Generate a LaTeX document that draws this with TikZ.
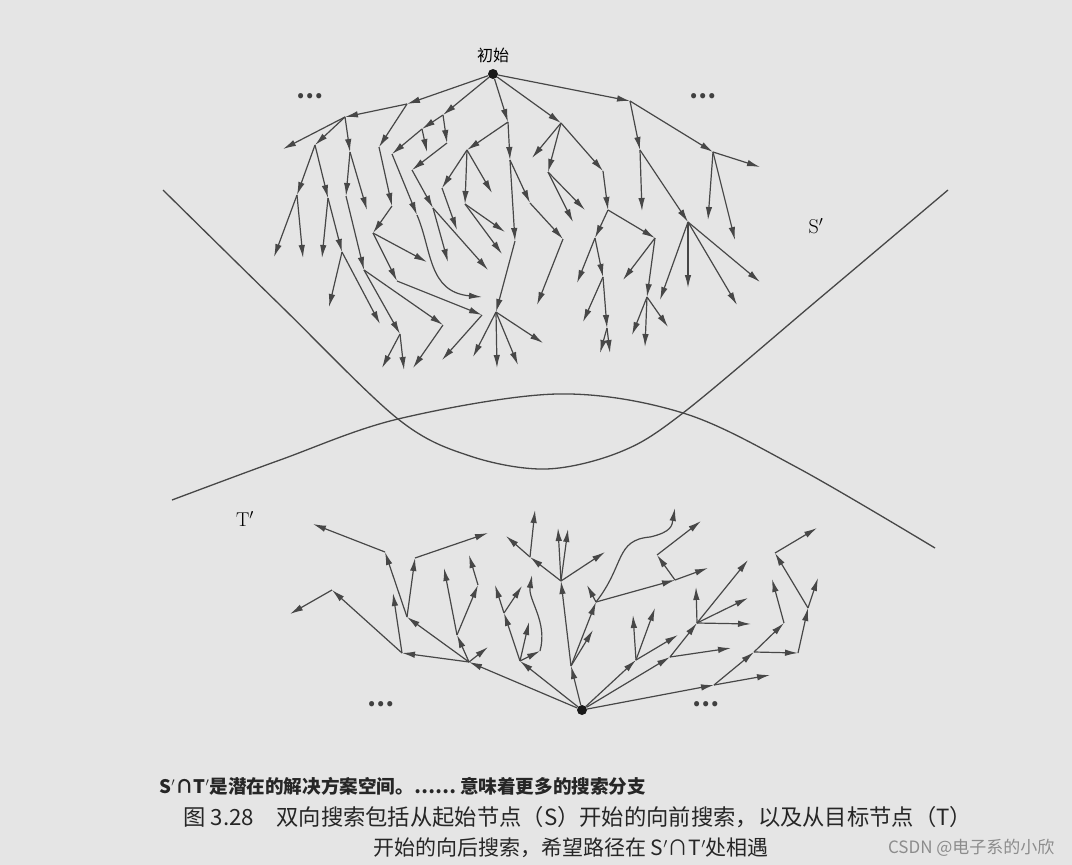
\documentclass[tikz,border=0pt]{standalone}
\usepackage{fontspec}
\newfontfamily\cjk{Noto Sans CJK SC}
\usetikzlibrary{arrows.meta}

\begin{document}
\begin{tikzpicture}[x=1pt, y=-1pt,
    edge/.style={draw=black!72, line width=1.2pt, -{Latex[length=13pt,width=6.5pt]}},
    border/.style={draw=black!72, line width=1.3pt},
    dot/.style={circle, fill=black!90, inner sep=0pt, minimum size=10pt},
    more/.style={font=\cjk\fontsize{24}{24}\selectfont\bfseries, text=black!75}]
    \useasboundingbox (0,0) rectangle (1072,865);
    \fill[black!10] (0,0) rectangle (1072,865);

    \draw[border] plot[smooth, tension=0.55] coordinates {(163,190) (280,305) (398,419) (470,456) (546,469) (620,452) (683,413) (820,298) (948,190)};
    \draw[border] plot[smooth, tension=0.55] coordinates {(172,500) (280,460) (398,419) (557,394) (683,413) (798,468) (935,548)};

    \node[dot] (s) at (493,74) {};
    \node (start) at (493,55) {\cjk\fontsize{16}{16}\selectfont 初始};
    \node (sprime) at (816,226) {\fontsize{20}{20}\selectfont S$'$};
    \node (tprime) at (245,519) {\fontsize{20}{20}\selectfont T$'$};
    \node[more] (sleft) at (310,96) {…};
    \node[more] (sright) at (703,96) {…};

    \foreach \n/\x/\y in {u1/407/104, u2/443/115, u3/508/122, u4/561/123, u5/630/101,
        u6/345/117, u7/379/147, u8/392/206, u9/373/233, u10/397/281,
        u11/315/145, u12/350/152, u13/297/195, u14/328/198, u15/346/196,
        u16/342/252, u17/364/270, u18/400/334, u19/443/325, u20/422/129,
        u21/447/143, u22/392/154, u23/412/170, u24/433/208, u25/417/215,
        u26/482/315, u27/467/150, u28/442/188, u29/465/204, u30/510/160,
        u31/515/241, u32/530/203, u33/563/239, u34/496/312, u35/548/172,
        u36/603/171, u37/608/210, u38/595/238, u39/655/238, u40/603/277,
        u41/607/328, u42/647/297, u44/640/150, u45/713/152, u46/688/222,
        l1/283/149, l2/274/257, l3/303/258, l4/322/258, l5/329/307,
        l6/380/324, l7/367/210, l8/382/368, l9/404/370, l10/413/368,
        l11/427/262, l12/442/360, l13/427/152, l14/448/262, l15/488/270,
        l16/482/297, l17/492/193, l18/457/230, l19/505/232, l20/502/254,
        l21/537/305, l22/473/357, l23/497/368, l24/518/365, l25/543/343,
        l26/532/158, l27/573/222, l28/585/210, l29/577/283, l30/583/322,
        l31/600/353, l32/610/353, l33/623/280, l34/632/335, l35/645/347,
        l36/668/327, l37/642/211, l38/660/300, l39/688/288, l40/737/305,
        l41/760/282, l42/760/167, l43/708/220, l44/735/240}
        \coordinate (\n) at (\x,\y);

    \foreach \a/\b in {s/u1, s/u2, s/u3, s/u4, s/u5, u1/u6, u1/u7,
        u6/l1, u6/u11, u6/u12, u11/u13, u11/u14, u13/l2, u13/l3, u14/l4, u14/u16,
        u16/l5, u16/l6, u12/l7, u12/u15, u15/u17, u17/u18, u17/u19,
        u18/l8, u18/l9, u19/l10, u7/u8, u8/u9, u9/l11, u9/u10, u10/u26, u26/l12,
        u2/u20, u2/u21, u20/l13, u20/u22, u22/u25, u21/u23, u23/u24, u24/l14, u24/l15,
        u3/u27, u3/u30, u27/u28, u27/u29, u27/l17, u28/l18, u29/l19, u29/l20,
        u30/u31, u30/u32, u32/u33, u33/l21, u31/u34, u34/l22, u34/l23, u34/l24, u34/l25,
        u4/l26, u4/u35, u4/u36, u35/l27, u35/l28, u36/u37, u37/u38, u37/u39,
        u38/l29, u38/u40, u40/l30, u40/u41, u41/l31, u41/l32, u39/l33, u39/u42,
        u42/l34, u42/l35, u42/l36, u5/u44, u5/u45, u44/l37, u44/u46,
        u46/l38, u46/l39, u46/l40, u46/l41, u45/l42, u45/l43, u45/l44}
        \draw[edge] (\a) -- (\b);
    \draw[edge] (u25) .. controls (432,250) and (428,292) .. (l16);

    \node[dot] (t) at (582,710) {};
    \node[more] (tleft) at (381,704) {…};
    \node[more] (tright) at (706,704) {…};

    \foreach \n/\x/\y in {d1/469/662, d2/520/661, d3/571/666, d4/636/660, d5/670/657,
        d6/714/685, d7/402/653, d8/407/617, d9/457/635, d10/332/590,
        d11/385/552, d12/415/558, d13/478/585, d14/504/613, d15/540/651,
        d16/561/581, d17/530/557, d18/596/602, d19/675/580, d20/657/555,
        d21/697/623, d22/754/652, d23/784/623, d24/798/653, d25/808/608,
        d26/775/553,
        m1/393/593, m2/290/614, m3/313/524, m4/488/533, m5/444/568,
        m6/469/555, m7/488/647, m8/495/585, m9/522/586, m10/529/622,
        m11/532/575, m12/558/528, m13/568/529, m14/605/552, m15/506/536,
        m16/535/510, m17/587/585, m18/675/508, m19/708/568, m20/701/521,
        m21/593/630, m22/633/615, m23/655/608, m24/678/635, m25/731/648,
        m26/696/587, m27/748/560, m28/748/598, m29/751/624, m30/770/675,
        m31/772/579, m32/817/528, m33/818/578}
        \coordinate (\n) at (\x,\y);

    \foreach \a/\b in {t/d1, t/d2, t/d3, t/d4, t/d5, t/d6,
        d1/d7, d1/d8, d1/d9, d1/m7, d7/d10, d7/m1, d10/m2, d8/d11, d8/d12,
        d11/m3, d12/m4, d9/m5, d9/d13, d13/m6,
        d2/d14, d2/m10, d2/d15, d14/m8, d14/m9,
        d3/d16, d3/d18, d3/m21, d16/m12, d16/m13, d16/d17, d16/m14, d17/m15, d17/m16,
        d18/m17, d18/d19, d19/m19, d19/d20, d20/m20,
        d4/m22, d4/m23, d4/m24, d5/m25, d5/d21, d21/m26, d21/m27, d21/m28, d21/m29,
        d6/m30, d6/d22, d22/d23, d23/m31, d22/d24, d24/d25, d25/d26, d26/m32, d25/m33}
        \draw[edge] (\a) -- (\b);
    \draw[edge] (d15) .. controls (548,622) and (528,600) .. (m11);
    \draw[edge] (d18) .. controls (625,565) and (615,540) .. (650,537) .. controls (672,532) and (672,525) .. (m18);

    \node[anchor=west, text=black!85] (note) at (156,786) {\cjk\bfseries\fontsize{18.6}{18.6}\selectfont S$'$∩T$'$是潜在的解决方案空间。…… 意味着更多的搜索分支};
    \node[anchor=west, text=black!85] (caption) at (180,817) {\cjk\fontsize{22.3}{22.3}\selectfont 图 3.28\quad 双向搜索包括从起始节点（S）开始的向前搜索，以及从目标节点（T）};
    \node[text=black!85] (caption2) at (571,848) {\cjk\fontsize{21}{21}\selectfont 开始的向后搜索，希望路径在 S$'$∩T$'$处相遇};
    \node[anchor=east, text=black!45] (mark) at (1058,848) {\cjk\fontsize{17}{17}\selectfont CSDN @电子系的小欣};
\end{tikzpicture}
\end{document}
